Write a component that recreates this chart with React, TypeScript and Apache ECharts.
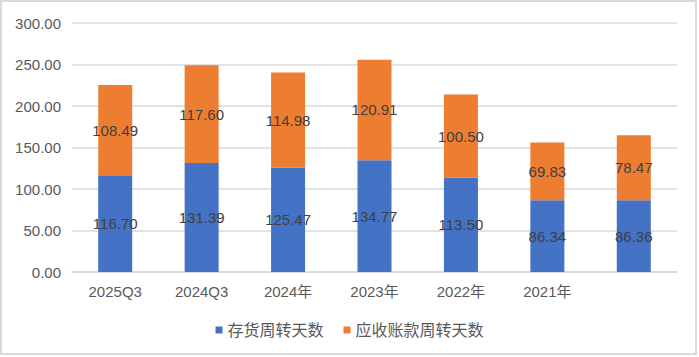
import React, { useEffect, useRef } from "react";
import * as echarts from "echarts";

const categories = ["2025Q3", "2024Q3", "2024年", "2023年", "2022年", "2021年", ""];
const inventoryDays = [116.7, 131.39, 125.47, 134.77, 113.5, 86.34, 86.36];
const receivableDays = [108.49, 117.6, 114.98, 120.91, 100.5, 69.83, 78.47];
const seriesNames = ["存货周转天数", "应收账款周转天数"];

const FONT = "'Liberation Sans', 'Noto Sans CJK SC', sans-serif";

export default function App() {
  const ref = useRef<HTMLDivElement>(null);
  useEffect(() => {
    if (!ref.current) return;
    const chart = echarts.init(ref.current, undefined, { renderer: "svg" });
    const labelStyle = {
      show: true,
      position: "inside" as const,
      color: "#404040",
      fontSize: 15,
      fontFamily: FONT,
      formatter: (p: any) => Number(p.value).toFixed(2),
    };
    chart.setOption({
      animation: false,
      backgroundColor: "#ffffff",
      graphic: [
        {
          type: "rect",
          shape: { x: 1, y: 1, width: 695, height: 353 },
          style: { fill: "none", stroke: "#d9d9d9", lineWidth: 2 },
          silent: true,
        },
      ],
      grid: { left: 72, right: 22, top: 23, bottom: 85 },
      legend: {
        bottom: 14,
        left: "center",
        itemWidth: 7,
        itemHeight: 7,
        itemGap: 20,
        icon: "rect",
        textStyle: { color: "#595959", fontSize: 16, fontFamily: FONT },
        data: seriesNames,
      },
      xAxis: {
        type: "category",
        data: categories,
        axisTick: { show: false },
        axisLine: { lineStyle: { color: "#d9d9d9", width: 1.5 } },
        axisLabel: { color: "#595959", fontSize: 15, fontFamily: FONT, margin: 12 },
      },
      yAxis: {
        type: "value",
        min: 0,
        max: 300,
        interval: 50,
        axisLine: { show: false },
        axisTick: { show: false },
        splitLine: { lineStyle: { color: "#d9d9d9", width: 1.5 } },
        axisLabel: {
          color: "#595959",
          fontSize: 15,
          fontFamily: FONT,
          margin: 11,
          formatter: (v: number) => v.toFixed(2),
        },
      },
      series: [
        {
          name: seriesNames[0],
          type: "bar",
          stack: "total",
          data: inventoryDays,
          barWidth: 34,
          itemStyle: { color: "#4472C4" },
          label: labelStyle,
        },
        {
          name: seriesNames[1],
          type: "bar",
          stack: "total",
          data: receivableDays,
          barWidth: 34,
          itemStyle: { color: "#ED7D31" },
          label: labelStyle,
        },
      ],
    });
    return () => chart.dispose();
  }, []);
  return (
    <div
      ref={ref}
      style={{ position: "fixed", left: 0, top: 0, width: 699, height: 357 }}
    />
  );
}
